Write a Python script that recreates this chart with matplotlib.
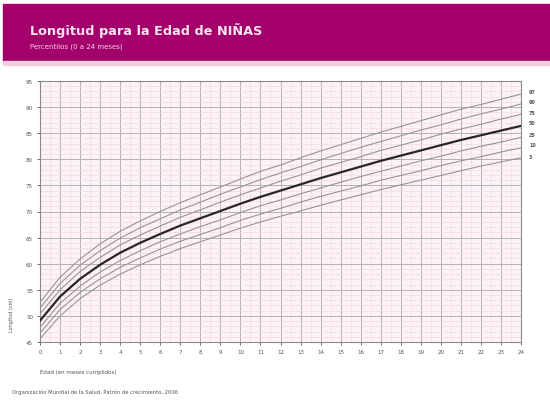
import matplotlib
matplotlib.use("Agg")
import matplotlib.pyplot as plt
from matplotlib.patches import Rectangle

# months 0..24
months = list(range(0, 25))

# percentile curves (cm)
p3 = [45.6, 50.0, 53.3, 55.9, 58.0, 59.8, 61.4, 62.9, 64.2, 65.5, 66.8, 68.0, 69.1,
      70.1, 71.2, 72.2, 73.2, 74.2, 75.1, 76.0, 76.9, 77.8, 78.7, 79.5, 80.3]
p10 = [46.7, 51.2, 54.5, 57.1, 59.3, 61.1, 62.8, 64.3, 65.6, 66.9, 68.3, 69.5, 70.6,
       71.8, 72.9, 73.9, 74.9, 76.0, 76.9, 77.8, 78.8, 79.7, 80.5, 81.4, 82.2]
p25 = [47.8, 52.4, 55.7, 58.4, 60.6, 62.5, 64.2, 65.7, 67.1, 68.4, 69.8, 71.1, 72.2,
       73.4, 74.5, 75.6, 76.7, 77.7, 78.7, 79.7, 80.6, 81.6, 82.5, 83.3, 84.2]
p50 = [49.1, 53.7, 57.1, 59.8, 62.1, 64.0, 65.7, 67.3, 68.7, 70.1, 71.5, 72.8, 74.0,
       75.2, 76.4, 77.5, 78.6, 79.7, 80.7, 81.7, 82.7, 83.7, 84.6, 85.5, 86.4]
p75 = [50.4, 55.0, 58.5, 61.2, 63.6, 65.5, 67.2, 68.9, 70.3, 71.8, 73.2, 74.5, 75.8,
       77.0, 78.3, 79.4, 80.5, 81.7, 82.7, 83.7, 84.8, 85.8, 86.7, 87.7, 88.6]
p90 = [51.5, 56.2, 59.7, 62.5, 64.9, 66.9, 68.6, 70.3, 71.8, 73.3, 74.7, 76.1, 77.4,
       78.6, 79.9, 81.1, 82.3, 83.4, 84.5, 85.6, 86.6, 87.7, 88.7, 89.6, 90.6]
p97 = [52.6, 57.4, 60.9, 63.8, 66.2, 68.2, 70.0, 71.7, 73.2, 74.7, 76.2, 77.7, 78.9,
       80.3, 81.6, 82.8, 84.0, 85.2, 86.3, 87.4, 88.5, 89.6, 90.5, 91.5, 92.5]

curves = [p97, p90, p75, p50, p25, p10, p3]
curve_labels = ["97", "90", "75", "50", "25", "10", "3"]
# label heights at the right edge (evenly stacked, as printed)
label_y = [93.0, 91.0, 89.0, 87.0, 84.8, 82.8, 80.6]

y_ticks = [45, 50, 55, 60, 65, 70, 75, 80, 85, 90, 95]

MAGENTA = '#a3006c'
GRID_GREY = '#b4b0b3'
GRID_PINK = '#f6d8e6'

fig = plt.figure(figsize=(5.5, 4.06), dpi=100)

# header band
fig.patches.append(Rectangle((3 / 550, 1 - 62 / 406), 547 / 550, 57 / 406,
                             transform=fig.transFigure, color=MAGENTA, zorder=0))
fig.patches.append(Rectangle((3 / 550, 1 - 66 / 406), 547 / 550, 4 / 406,
                             transform=fig.transFigure, color='#f5cde0', zorder=0))
fig.text(30 / 550, 1 - 31 / 406, "Longitud para la Edad de NIÑAS", color='#fbe3f0',
         fontsize=9.3, fontweight='bold', va='center', ha='left')
fig.text(30 / 550, 1 - 47 / 406, "Percentilos (0 a 24 meses)", color='#f7d3e6',
         fontsize=5, va='center', ha='left')

ax = fig.add_axes([40 / 550, 1 - 343 / 406, 481 / 550, 261 / 406])
ax.set_facecolor('#fdf3f7')

for c, lab, ly in zip(curves, curve_labels, label_y):
    if lab == "50":
        ax.plot(months, c, color='#262626', lw=1.6, zorder=4)
    else:
        ax.plot(months, c, color='#959595', lw=0.8, zorder=3)
    ax.text(24.4, ly, lab, fontsize=3.5, fontweight='bold', color='#555555',
            va='center', ha='left', clip_on=False)

ax.set_xlim(0, 24)
ax.set_ylim(45, 95)
ax.set_xticks(months)
ax.set_xticks([m + 0.5 for m in months[:-1]], minor=True)
ax.set_yticks(y_ticks)
ax.set_yticks(list(range(45, 96)), minor=True)
ax.grid(which='minor', color=GRID_PINK, lw=0.5, zorder=1)
ax.grid(which='major', color=GRID_GREY, lw=0.7, zorder=2)
ax.set_axisbelow(True)
ax.tick_params(which='major', labelsize=4, colors='#555555', length=2, width=0.6, pad=3)
ax.tick_params(which='minor', length=0)
for s in ax.spines.values():
    s.set_color('#8a8a8a')
    s.set_linewidth(0.8)

fig.text(12 / 550, 1 - 315 / 406, "Longitud (cm)", rotation=90, fontsize=3.5,
         color='#555555', va='center', ha='center')
fig.text(40 / 550, 1 - 373 / 406, "Edad (en meses cumplidos)", fontsize=4,
         color='#555555', va='center', ha='left')
fig.text(12 / 550, 1 - 392 / 406,
         "Organización Mundial de la Salud. Patrón de crecimiento, 2006", fontsize=3.8,
         color='#555555', va='center', ha='left')

fig.savefig("out.png", dpi=100)
